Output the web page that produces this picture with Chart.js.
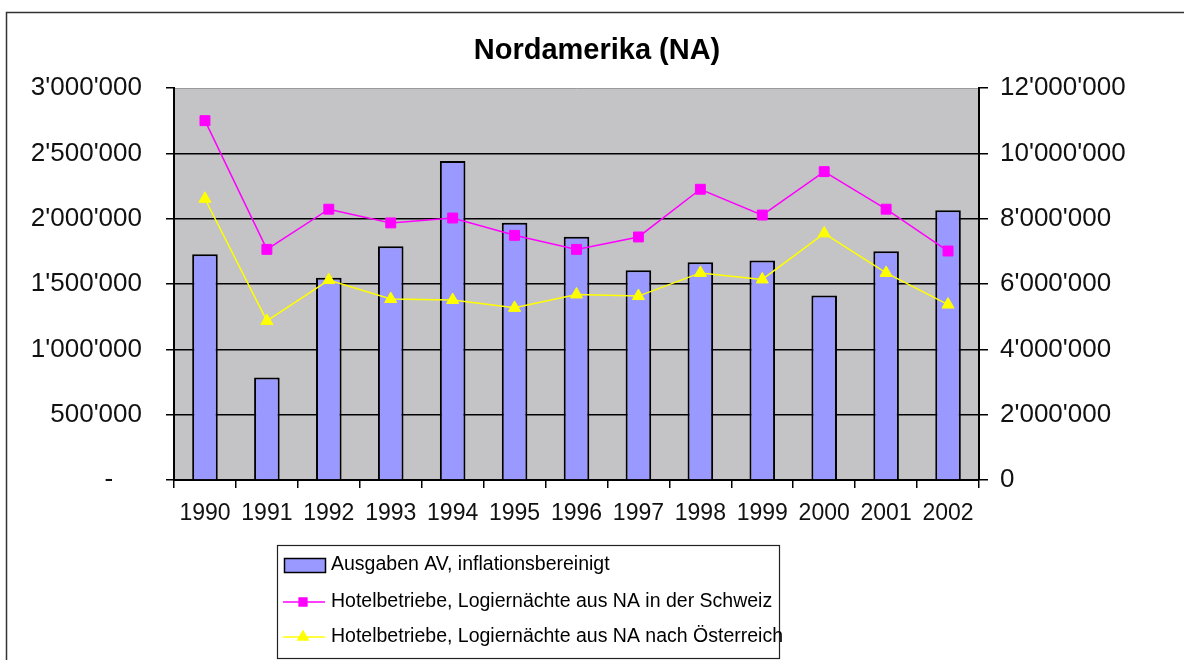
<!DOCTYPE html>
<html>
<head>
<meta charset="utf-8">
<script src="https://cdn.jsdelivr.net/npm/chart.js@4/dist/chart.umd.min.js"></script>
<style>
	html, body { margin: 0; padding: 0; background: #fff; }
	#wrap { width: 1184px; height: 660px; }
</style>
</head>
<body>
<div id="wrap"><canvas id="naChart" width="1184" height="660"></canvas></div>
<script>
( function () {
	'use strict';

	// Data
	const years        = [ '1990', '1991', '1992', '1993', '1994', '1995', '1996', '1997', '1998', '1999', '2000', '2001', '2002' ];
	const ausgabenAV   = [ 1728000, 785000, 1547000, 1789000, 2442000, 1968000, 1861000, 1606000, 1667000, 1680000, 1412000, 1751000, 2065000 ];
	const nachtSchweiz = [ 11000000, 7060000, 8290000, 7870000, 8020000, 7490000, 7060000, 7440000, 8900000, 8110000, 9440000, 8290000, 7010000 ];
	const nachtOesterr = [ 8610000, 4870000, 6120000, 5540000, 5510000, 5270000, 5680000, 5630000, 6340000, 6140000, 7550000, 6340000, 5370000 ];

	const leftMax   = 3000000;
	const leftStep  = 500000;
	const rightMax  = 12000000;
	const rightStep = 2000000;

	const titleText = 'Nordamerika (NA)';
	const labels    = [
		'Ausgaben AV, inflationsbereinigt',
		'Hotelbetriebe, Logiernächte aus NA in der Schweiz',
		'Hotelbetriebe, Logiernächte aus NA nach Österreich',
	];

	const FONT = "'Liberation Sans', Arial, sans-serif";

	function fmt( v ) {
		return String( Math.round( v ) ).replace( /\B(?=(\d{3})+(?!\d))/g, "'" );
	}

	// Plot background, outer frame, title and the boxed legend
	const frame = {
		id: 'frame',
		beforeDraw: function ( chart ) {
			const ctx = chart.ctx;
			const a   = chart.chartArea;
			ctx.save();
			ctx.fillStyle = '#c4c3c6';
			ctx.fillRect( a.left, a.top, a.right - a.left, a.bottom - a.top );
			ctx.strokeStyle = '#9a9a9a';
			ctx.lineWidth = 1;
			ctx.beginPath();
			ctx.moveTo( a.left, Math.round( a.top ) + 0.5 );
			ctx.lineTo( a.right, Math.round( a.top ) + 0.5 );
			ctx.stroke();

			ctx.strokeStyle = '#333';
			ctx.lineWidth = 1.5;
			ctx.strokeRect( 6.5, 12.5, 1300, 800 );

			ctx.fillStyle = '#000';
			ctx.font = 'bold 29px ' + FONT;
			ctx.textAlign = 'center';
			ctx.textBaseline = 'middle';
			ctx.fillText( titleText, 597, 51 );
			ctx.restore();
		},
		afterDraw: function ( chart ) {
			const ctx = chart.ctx;
			const ds  = chart.data.datasets;
			ctx.save();
			ctx.strokeStyle = '#222';
			ctx.lineWidth = 1.2;
			ctx.strokeRect( 277.5, 545.5, 502, 113 );

			const rows = [ 565, 602, 637 ];
			ctx.font = '19.5px ' + FONT;
			ctx.textAlign = 'left';
			ctx.textBaseline = 'middle';

			ds.forEach( function ( d, i ) {
				const y = rows[ i ];
				if ( d.type === 'bar' ) {
					ctx.fillStyle = d.backgroundColor;
					ctx.fillRect( 284.5, y - 6.5, 41, 14 );
					ctx.strokeStyle = '#000';
					ctx.lineWidth = 1.5;
					ctx.strokeRect( 284.5, y - 6.5, 41, 14 );
				} else {
					ctx.strokeStyle = d.borderColor;
					ctx.lineWidth = 1.5;
					ctx.beginPath();
					ctx.moveTo( 283, y );
					ctx.lineTo( 325, y );
					ctx.stroke();
					Chart.helpers.drawPoint( ctx, {
						pointStyle: d.pointStyle,
						radius: d.pointStyle === 'rect' ? 5.5 : 6,
						borderWidth: 1,
					}, 303, y );
					ctx.fillStyle = d.pointBackgroundColor;
					ctx.fill();
				}
				ctx.fillStyle = '#000';
				ctx.fillText( d.label, 331, y );
			} );
			ctx.restore();
		},
	};

	new Chart( document.getElementById( 'naChart' ), {
		data: {
			labels: years,
			datasets: [ {
				type:            'bar',
				label:           labels[0],
				data:            ausgabenAV,
				yAxisID:         'y',
				backgroundColor: '#9999ff',
				borderColor:     '#000',
				borderWidth:     2,
				categoryPercentage: 1,
				barPercentage:   0.413,
				order:           3,
			}, {
				type:                 'line',
				label:                labels[1],
				data:                 nachtSchweiz,
				yAxisID:              'y1',
				borderColor:          '#ff00ff',
				borderWidth:          1.5,
				pointStyle:           'rect',
				pointRadius:          7,
				pointBackgroundColor: '#ff00ff',
				pointBorderColor:     '#ff00ff',
				pointBorderWidth:     1,
				tension:              0,
				order:                1,
			}, {
				type:                 'line',
				label:                labels[2],
				data:                 nachtOesterr,
				yAxisID:              'y1',
				borderColor:          '#ffff00',
				borderWidth:          1.5,
				pointStyle:           'triangle',
				pointRadius:          7,
				pointBackgroundColor: '#ffff00',
				pointBorderColor:     '#ffff00',
				pointBorderWidth:     1,
				tension:              0,
				order:                2,
			} ],
		},
		options: {
			responsive:       false,
			animation:        false,
			devicePixelRatio: 1,
			layout:  { padding: { top: 88, left: 0, right: 0, bottom: 0 } },
			plugins: {
				legend:  { display: false },
				title:   { display: false },
				tooltip: { enabled: false },
			},
			scales: {
				x: {
					offset: true,
					grid: {
						offset:          true,
						drawOnChartArea: false,
						drawTicks:       true,
						tickLength:      8,
						color:           '#000',
						lineWidth:       1.5,
					},
					border: { color: '#000', width: 2 },
					ticks: {
						color:       '#111',
						font:        { family: FONT, size: 23 },
						padding:     12,
						maxRotation: 0,
						autoSkip:    false,
					},
					afterFit: function ( s ) { s.height = 180; },
				},
				y: {
					position: 'left',
					min:      0,
					max:      leftMax,
					grid: {
						color: function ( c ) {
							return c.tick && c.tick.value === leftMax ? 'rgba(0,0,0,0)' : '#000';
						},
						tickColor:  '#000',
						tickLength: 8,
						lineWidth:  1.5,
					},
					border: { color: '#000', width: 2 },
					ticks: {
						stepSize: leftStep,
						color:    '#111',
						padding:  24,
						font:     { family: FONT, size: 26 },
						callback: function ( v ) { return v === 0 ? '-    ' : fmt( v ); },
					},
					afterFit: function ( s ) { s.width = 174; },
				},
				y1: {
					position: 'right',
					min:      0,
					max:      rightMax,
					grid: {
						drawOnChartArea: false,
						color:      '#000',
						tickLength: 9,
						lineWidth:  1.5,
					},
					border: { color: '#000', width: 2 },
					ticks: {
						stepSize: rightStep,
						color:    '#111',
						padding:  12,
						font:     { family: FONT, size: 26 },
						callback: function ( v ) { return fmt( v ); },
					},
					afterFit: function ( s ) { s.width = 205; },
				},
			},
		},
		plugins: [ frame ],
	} );
} )();
</script>
</body>
</html>
